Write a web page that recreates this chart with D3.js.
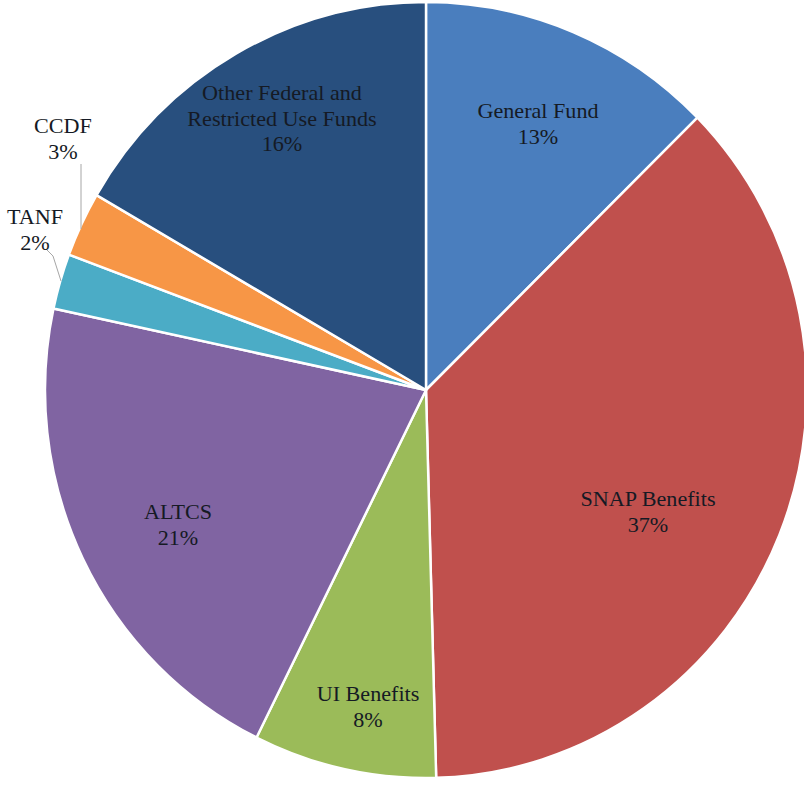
<!DOCTYPE html>
<html>
<head>
<meta charset="utf-8">
<script src="https://cdn.jsdelivr.net/npm/d3@7"></script>
<style>
  body { margin: 0; background: #fff; }
</style>
</head>
<body>
<div id="chart"></div>
<script>
// slice data, clockwise from 12 o'clock
var categories = ["General Fund", "SNAP Benefits", "UI Benefits", "ALTCS", "TANF", "CCDF", "Other Federal and Restricted Use Funds"];
var shares = [12.6, 36.9, 7.75, 21.0, 2.3, 2.7, 16.6];
var pctLabels = ["13%", "37%", "8%", "21%", "2%", "3%", "16%"];
var colors = ["#4a7ebe", "#c0504d", "#9bbb59", "#8064a2", "#4bacc6", "#f79646", "#284f7e"];

window.onload = function()
{
	DrawPie();
}

function DrawPie()
{
	var width = 804, height = 785;
	var cx = 426, cy = 390;
	var r = 388;
	var xSquash = 381 / 388;
	var textStretch = 1.08;

	var svg = d3.select("#chart").append("svg")
		.attr("width", width)
		.attr("height", height);

	var data = categories.map(function(c, i) {
		return { name: c, value: shares[i], pct: pctLabels[i], color: colors[i] };
	});

	var pie = d3.pie()
		.sort(null)
		.value(function(d) { return d.value; });

	var arc = d3.arc().innerRadius(0).outerRadius(r);

	var g = svg.append("g")
		.attr("transform", "translate(" + cx + "," + cy + ") scale(" + xSquash + ",1)");

	var arcs = pie(data);

	g.selectAll("path")
		.data(arcs).enter()
		.append("path")
		.attr("d", arc)
		.attr("fill", function(d) { return d.data.color; })
		.attr("stroke", "#fff")
		.attr("stroke-width", 2.5)
		.attr("stroke-linejoin", "round");

	/* label placement, in page pixels (line centre of first line) */
	var labelPos = {
		"General Fund": { x: 538, y: 111, lines: ["General Fund"] },
		"SNAP Benefits": { x: 648, y: 499, lines: ["SNAP Benefits"] },
		"UI Benefits": { x: 368, y: 694, lines: ["UI Benefits"] },
		"ALTCS": { x: 178, y: 512, lines: ["ALTCS"] },
		"TANF": { x: 35, y: 217, lines: ["TANF"] },
		"CCDF": { x: 63, y: 126, lines: ["CCDF"] },
		"Other Federal and Restricted Use Funds": { x: 282, y: 93, lines: ["Other Federal and", "Restricted Use Funds"] }
	};

	/* leader lines for the small outside slices */
	var leaders = svg.append("g").attr("class", "leaders");
	leaders.append("polyline")
		.attr("points", "81,164 81,229")
		.attr("fill", "none").attr("stroke", "#a6a6a6").attr("stroke-width", 1);
	leaders.append("polyline")
		.attr("points", "47,250 53,256 61,281")
		.attr("fill", "none").attr("stroke", "#a6a6a6").attr("stroke-width", 1);

	var labels = svg.append("g").attr("class", "labels");
	arcs.forEach(function(a) {
		var p = labelPos[a.data.name];
		var t = labels.append("text")
			.attr("text-anchor", "middle")
			.attr("transform", "translate(" + p.x + "," + p.y + ") scale(" + textStretch + ",1)")
			.attr("font-family", "'Liberation Serif', 'Times New Roman', Times, serif")
			.attr("font-size", 20.5)
			.attr("fill", "#151a24");
		var rows = p.lines.concat([a.data.pct]);
		rows.forEach(function(s, i) {
			t.append("tspan")
				.attr("x", 0)
				.attr("dy", i == 0 ? "0.35em" : "1.25em")
				.text(s);
		});
	});
}
</script>
</body>
</html>
